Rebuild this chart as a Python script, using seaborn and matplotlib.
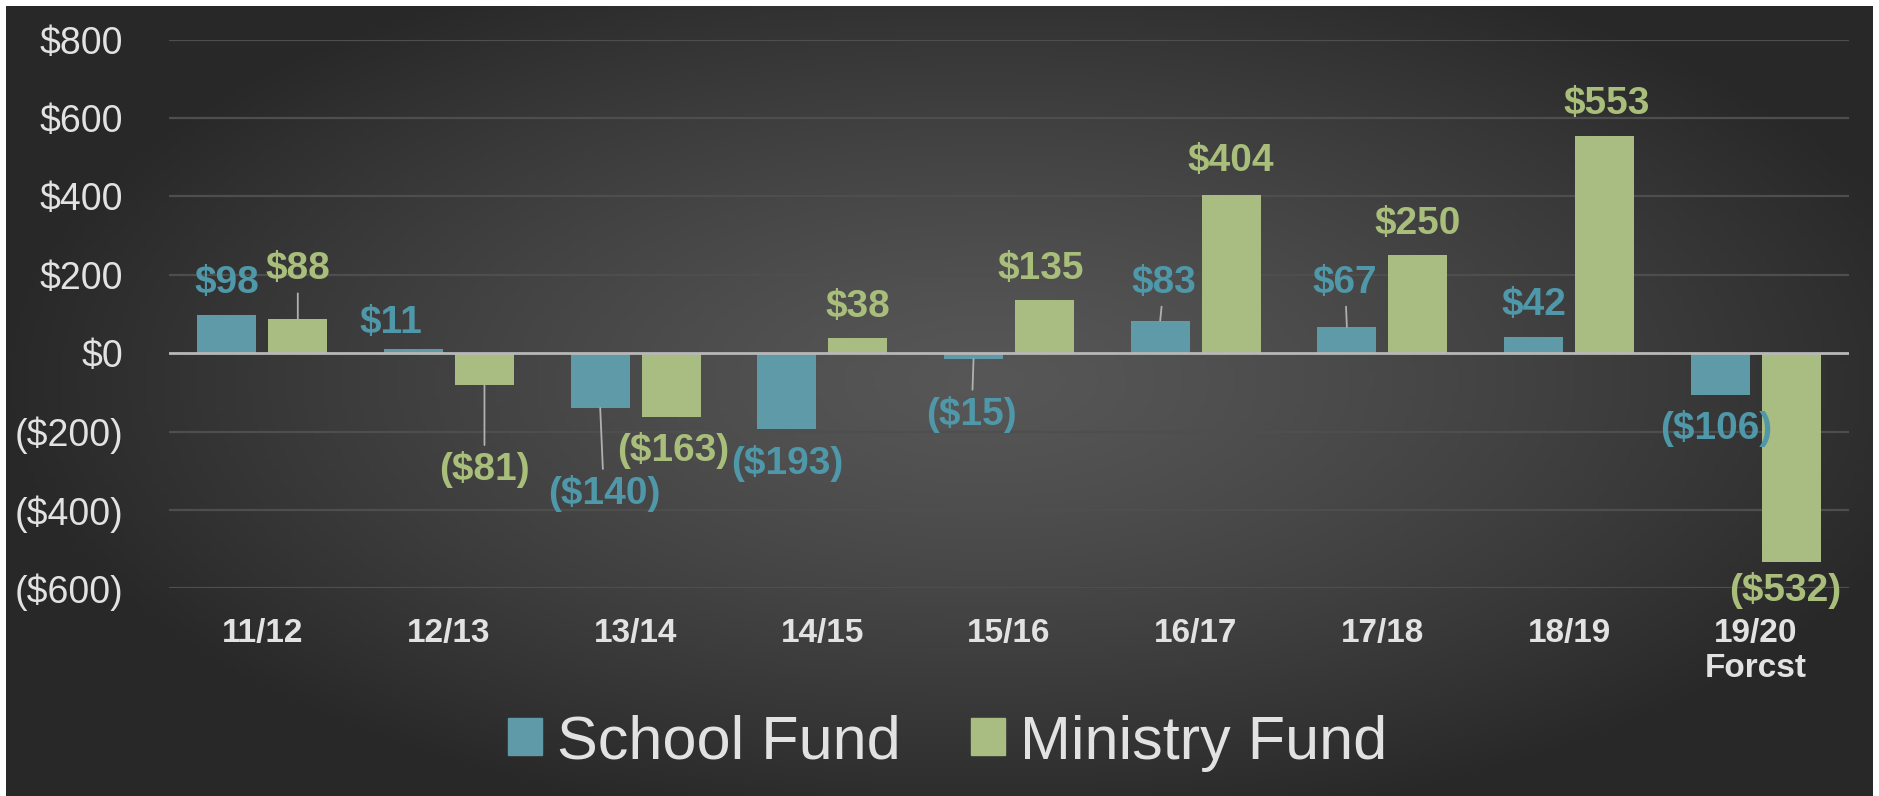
import numpy as np
import pandas as pd
import matplotlib
matplotlib.use('Agg')
import matplotlib.pyplot as plt
import seaborn as sns
from matplotlib.ticker import FuncFormatter

# data
years = ['11/12', '12/13', '13/14', '14/15', '15/16', '16/17', '17/18', '18/19', '19/20\nForcst']
school_fund = [98, 11, -140, -193, -15, 83, 67, 42, -106]
ministry_fund = [88, -81, -163, 38, 135, 404, 250, 553, -532]
series_names = ['School Fund', 'Ministry Fund']

# label placement: (offset from category centre, y in data units, leader line?)
school_label_pos = [(-0.19, 180, False), (-0.31, 76, False), (-0.17, -358, True),
                    (-0.19, -281, False), (-0.20, -156, True), (-0.17, 180, True),
                    (-0.20, 180, True), (-0.19, 122, False), (-0.21, -193, False)]
ministry_label_pos = [(0.19, 214, True), (0.19, -297, True), (0.20, -248, False),
                      (0.19, 119, False), (0.17, 214, False), (0.19, 489, False),
                      (0.19, 330, False), (0.20, 636, False), (0.16, -606, False)]

SCHOOL_COLOR = '#5e9aa7'
MINISTRY_COLOR = '#a9bc82'
SCHOOL_TEXT = '#4f98a9'
MINISTRY_TEXT = '#a9be7b'


def money(v, pos=None):
    if v < 0:
        return f'(${-v:,.0f})'
    return f'${v:,.0f}'


def build_df():
    rows = []
    for i, y in enumerate(years):
        rows.append({'Year': y, 'Fund': series_names[0], 'Value': school_fund[i]})
        rows.append({'Year': y, 'Fund': series_names[1], 'Value': ministry_fund[i]})
    return pd.DataFrame(rows)


def main():
    sns.set_style('white')
    plt.rcParams['font.family'] = ['Liberation Sans', 'DejaVu Sans']

    W, H = 1879, 796
    fig = plt.figure(figsize=(W / 100, H / 100), dpi=100, facecolor='white')

    # dark radial gradient background (thin white margin top/left/right)
    bg = fig.add_axes([6 / W, 0, (W - 12) / W, (H - 6) / H])
    gx, gy = np.meshgrid(np.linspace(-1, 1, 400), np.linspace(-1, 1, 200))
    r = np.sqrt(((gx - 0.05) / 1.05) ** 2 + ((gy + 0.05) / 1.15) ** 2)
    r = np.clip(r, 0, 1)
    shade = 0.34 - 0.18 * r ** 1.3
    bg.imshow(np.dstack([shade] * 3), aspect='auto', extent=[0, 1, 0, 1])
    bg.set_axis_off()

    ax = fig.add_axes([169 / W, 1 - 588.4 / H, (1849 - 169) / W, (588.4 - 39.5) / H])
    ax.set_facecolor('none')

    df = build_df()
    sns.barplot(data=df, x='Year', y='Value', hue='Fund', ax=ax,
                palette=[SCHOOL_COLOR, MINISTRY_COLOR], width=0.76, gap=0.17,
                saturation=1, legend=False, zorder=3, edgecolor='none', linewidth=0)

    ax.set_xlim(-0.5, len(years) - 0.5)
    ax.set_ylim(-600, 800)
    ax.set_yticks(np.arange(-600, 801, 200))
    ax.yaxis.set_major_formatter(FuncFormatter(money))
    for yv in np.arange(-600, 801, 200):
        if yv != 0:
            ax.axhline(yv, color='#4e4e4e', lw=1.6, zorder=1)
    ax.axhline(0, color='#b8b8b8', lw=2, zorder=4)

    for s in ax.spines.values():
        s.set_visible(False)
    ax.tick_params(axis='y', length=0, pad=33, labelsize=27, labelcolor='#e2e2e2')
    ax.tick_params(axis='x', length=0, pad=21, labelsize=24, labelcolor='#e2e2e2')
    for t in ax.get_xticklabels():
        t.set_fontweight('bold')
        t.set_linespacing(1.2)
    ax.set_xlabel('')
    ax.set_ylabel('')

    # value labels
    label_sets = [(school_fund, school_label_pos, SCHOOL_TEXT, ax.containers[0]),
                  (ministry_fund, ministry_label_pos, MINISTRY_TEXT, ax.containers[1])]
    for values, positions, color, bars in label_sets:
        for i, (val, (dx, ty, leader), bar) in enumerate(zip(values, positions, bars)):
            bx = bar.get_x() + bar.get_width() / 2
            arrow = None
            if leader:
                arrow = dict(arrowstyle='-', color='#b0b0b0', lw=1.3,
                             shrinkA=2, shrinkB=0)
            ax.annotate(money(val), xy=(bx, val), xytext=(i + dx, ty),
                        ha='center', va='center', fontsize=28, fontweight='bold',
                        color=color, arrowprops=arrow, annotation_clip=False,
                        zorder=6)

    handles = [plt.Rectangle((0, 0), 1, 1, color=c) for c in (SCHOOL_COLOR, MINISTRY_COLOR)]
    fig.legend(handles, series_names, loc='center', bbox_to_anchor=(948 / W, 1 - 743 / H),
               ncol=2, frameon=False, fontsize=44, labelcolor='#e2e2e2',
               handlelength=0.55, handleheight=0.55, handletextpad=0.25,
               columnspacing=1.15)

    fig.savefig('out.png', dpi=100, facecolor='white')
    plt.close(fig)


if __name__ == '__main__':
    main()
